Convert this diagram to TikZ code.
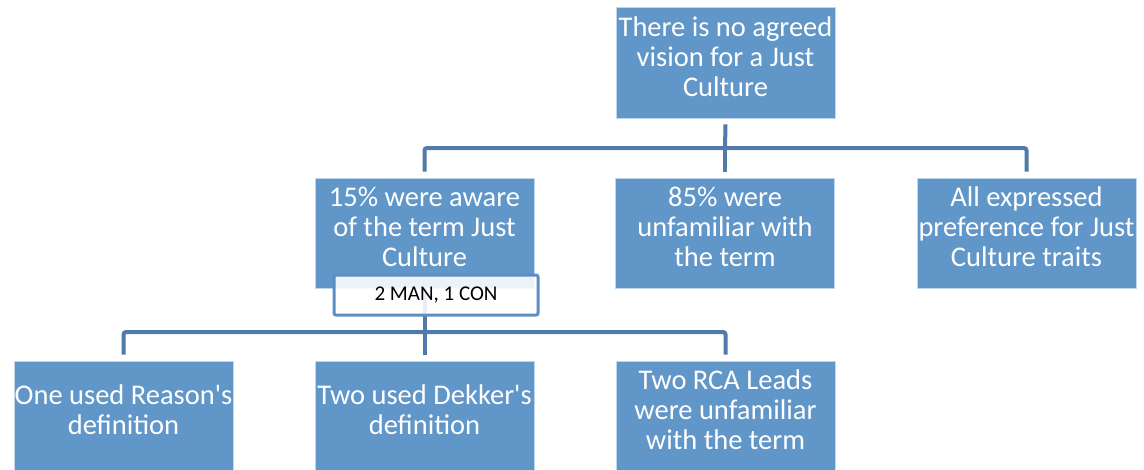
\documentclass[tikz,border=0pt]{standalone}
\usepackage{fontspec}
\setmainfont{Carlito}
\definecolor{boxfill}{RGB}{97,150,201}
\definecolor{boxedge}{RGB}{190,214,238}
\definecolor{connc}{RGB}{80,122,170}
\definecolor{labedge}{RGB}{92,141,196}
\begin{document}
\begin{tikzpicture}[x=1pt,y=-1pt,
  box/.style={rectangle, fill=boxfill, draw=boxedge, line width=0.8pt,
    minimum width=219pt, minimum height=110pt, inner sep=0pt, align=center,
    text=white, text depth=12pt, font=\fontsize{28.5}{30}\selectfont},
  conn/.style={draw=connc, line width=4pt, rounded corners=2.5pt},
  lab/.style={rectangle, fill=white, fill opacity=0.88, text opacity=1,
    draw=labedge, draw opacity=1, line width=3pt, rounded corners=2pt,
    minimum width=204pt, minimum height=40pt, inner sep=0pt,
    font=\fontsize{21}{24}\selectfont, text=black}]
\useasboundingbox (0,0) rectangle (1144,469);
% top
\node[box, minimum height=111pt] (top) at (725.5,62.5) {There is no agreed\\vision for a Just\\Culture};
% middle row
\node[box] (m1) at (424.5,233) {15\% were aware\\of the term Just\\Culture};
\node[box] (m2) at (725,233) {85\% were\\unfamiliar with\\the term};
\node[box] (m3) at (1026.5,233) {All expressed\\preference for Just\\Culture traits};
% bottom row
\node[box] (b1) at (123.5,416) {One used Reason\textquotesingle s\\definition};
\node[box] (b2) at (424.5,416) {Two used Dekker\textquotesingle s\\definition};
\node[box] (b3) at (725.5,416) {Two RCA Leads\\were unfamiliar\\with the term};
% buses
\coordinate (bus1) at (725,148);
\coordinate (bus2) at (424.5,332);
% top connectors
\draw[conn] ([yshift=-6pt]top.south) -- (bus1);
\draw[conn] (bus1) -| ([yshift=6pt]m1.north);
\draw[conn] (bus1) -- ([yshift=6pt]m2.north);
\draw[conn] (bus1) -| ([yshift=6pt]m3.north);
% lower connectors
\draw[conn] (m1.south) -- (bus2);
\draw[conn] (bus2) -| ([yshift=6pt]b1.north);
\draw[conn] (bus2) -- ([yshift=6pt]b2.north);
\draw[conn] (bus2) -| ([yshift=6pt]b3.north);
% label
\node[lab] (lab) at (436,295) {2 MAN, 1 CON};
\end{tikzpicture}
\end{document}
